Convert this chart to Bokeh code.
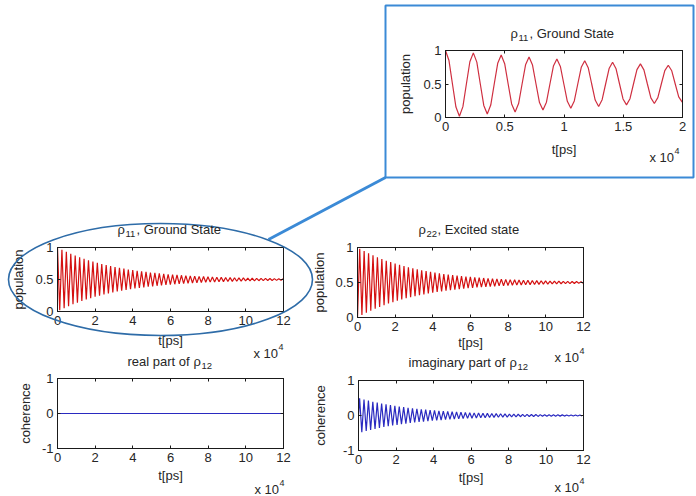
import numpy as np
from bokeh.core.properties import value
from bokeh.embed import file_html
from bokeh.models import FixedTicker, LinearAxis, Range1d
from bokeh.plotting import figure
from bokeh.resources import INLINE

FONT = "Liberation Sans"
INK = "#262626"
AXIS = "#1a1a1a"
RED = "#d41010"
RED_ZOOM = "#cf2f40"
BLUE = "#2a2ac0"
BOX_BLUE = "#3b8ad6"
RING_BLUE = "#2e6ca8"

# ---- data -------------------------------------------------------------
# Populations at successive extrema (one every half Rabi period)
HALF_PERIOD_PS = 1175.0
rho11_ext = [
    1.000, 0.018, 0.965, 0.051, 0.933, 0.083, 0.903, 0.112, 0.874, 0.139,
    0.848, 0.164, 0.824, 0.188, 0.801, 0.209, 0.780, 0.230, 0.761, 0.248,
    0.743, 0.266, 0.726, 0.282, 0.710, 0.298, 0.695, 0.312, 0.682, 0.325,
    0.669, 0.337, 0.657, 0.348, 0.646, 0.359, 0.636, 0.369, 0.627, 0.378,
    0.618, 0.387, 0.609, 0.394, 0.602, 0.402, 0.595, 0.409, 0.588, 0.415,
    0.582, 0.421, 0.576, 0.426, 0.571, 0.432, 0.566, 0.436, 0.561, 0.441,
    0.557, 0.445, 0.553, 0.449, 0.549, 0.452, 0.546, 0.456, 0.543, 0.459,
    0.540, 0.462, 0.537, 0.464, 0.534, 0.467, 0.532, 0.469, 0.530, 0.471,
    0.528, 0.473, 0.526, 0.475, 0.524, 0.477, 0.522, 0.479, 0.521, 0.480,
    0.519, 0.481, 0.518, 0.483, 0.517, 0.484, 0.516, 0.485, 0.514, 0.486,
    0.513, 0.487, 0.513,
]
rho22_ext = [
    0.000, 0.982, 0.035, 0.949, 0.067, 0.917, 0.097, 0.888, 0.126, 0.861,
    0.152, 0.836, 0.176, 0.812, 0.199, 0.791, 0.220, 0.770, 0.239, 0.752,
    0.257, 0.734, 0.274, 0.718, 0.290, 0.702, 0.305, 0.688, 0.318, 0.675,
    0.331, 0.663, 0.343, 0.652, 0.354, 0.641, 0.364, 0.631, 0.373, 0.622,
    0.382, 0.613, 0.391, 0.606, 0.398, 0.598, 0.405, 0.591, 0.412, 0.585,
    0.418, 0.579, 0.424, 0.574, 0.429, 0.568, 0.434, 0.564, 0.439, 0.559,
    0.443, 0.555, 0.447, 0.551, 0.451, 0.548, 0.454, 0.544, 0.457, 0.541,
    0.460, 0.538, 0.463, 0.536, 0.466, 0.533, 0.468, 0.531, 0.470, 0.529,
    0.472, 0.527, 0.474, 0.525, 0.476, 0.523, 0.478, 0.521, 0.479, 0.520,
    0.481, 0.519, 0.482, 0.517, 0.483, 0.516, 0.484, 0.515, 0.486, 0.514,
    0.487, 0.513, 0.487,
]
# Imaginary part of the coherence: zero at t=0, then extrema a quarter period later
im_rho12 = [
    0.000,
    0.491, -0.474, 0.457, -0.441, 0.425, -0.410, 0.395, -0.381, 0.368, -0.355,
    0.342, -0.330, 0.318, -0.307, 0.296, -0.285, 0.275, -0.266, 0.256, -0.247,
    0.238, -0.230, 0.222, -0.214, 0.206, -0.199, 0.192, -0.185, 0.178, -0.172,
    0.166, -0.160, 0.154, -0.149, 0.144, -0.138, 0.134, -0.129, 0.124, -0.120,
    0.116, -0.111, 0.108, -0.104, 0.100, -0.096, 0.093, -0.090, 0.087, -0.083,
    0.081, -0.078, 0.075, -0.072, 0.070, -0.067, 0.065, -0.062, 0.060, -0.058,
    0.056, -0.054, 0.052, -0.050, 0.049, -0.047, 0.045, -0.044, 0.042, -0.040,
    0.039, -0.038, 0.036, -0.035, 0.034, -0.033, 0.031, -0.030, 0.029, -0.028,
    0.027, -0.026, 0.025, -0.024, 0.024, -0.023, 0.022, -0.021, 0.020, -0.020,
    0.019, -0.018, 0.018, -0.017, 0.016, -0.016, 0.015, -0.015, 0.014, -0.014,
    0.013, -0.013,
]
# Real part of the coherence stays at zero over the whole run
re_t = [0.0, 120000.0]
re_rho12 = [0.0, 0.0]

# Close-up of rho11 over the first 2e4 ps, one sample every eighth of a period
ZOOM_STEP_PS = 293.75
rho11_zoom = [
    1.000, 0.850, 0.500, 0.156, 0.018, 0.162, 0.500, 0.832,
    0.965, 0.826, 0.500, 0.180, 0.051, 0.186, 0.500, 0.809,
    0.933, 0.803, 0.500, 0.202, 0.083, 0.208, 0.500, 0.787,
    0.903, 0.782, 0.500, 0.223, 0.112, 0.228, 0.500, 0.767,
    0.874, 0.762, 0.500, 0.242, 0.139, 0.247, 0.500, 0.749,
    0.848, 0.744, 0.500, 0.260, 0.164, 0.265, 0.500, 0.731,
    0.824, 0.727, 0.500, 0.277, 0.188, 0.281, 0.500, 0.715,
    0.801, 0.711, 0.500, 0.293, 0.209, 0.296, 0.500, 0.700,
    0.780, 0.697, 0.500, 0.307, 0.230,
]

x_ticks_main = [0, 20000, 40000, 60000, 80000, 100000, 120000]
x_labels_main = ["0", "2", "4", "6", "8", "10", "12"]
x_ticks_zoom = [0, 5000, 10000, 15000, 20000]
x_labels_zoom = ["0", "0.5", "1", "1.5", "2"]
pop_ticks = [0, 0.5, 1]
pop_labels = ["0", "0.5", "1"]
coh_ticks = [-1, 0, 1]
coh_labels = ["-1", "0", "1"]

t_pop = HALF_PERIOD_PS * np.arange(len(rho11_ext))
t_im = np.concatenate([[0.0], HALF_PERIOD_PS * (np.arange(len(im_rho12) - 1) + 0.5)])
t_zoom = ZOOM_STEP_PS * np.arange(len(rho11_zoom))

# ---- panels -------------------------------------------------------------
PAD_L, PAD_R, PAD_T, PAD_B = 70, 30, 30, 60


def panel(left, top, fw, fh, x_end, x_ticks, x_labels, y_rng, y_ticks, y_labels,
          y_title, x_gap, y_gap):
    p = figure(frame_width=fw, frame_height=fh,
               x_range=Range1d(0, x_end), y_range=Range1d(*y_rng),
               min_border_left=PAD_L, min_border_right=PAD_R,
               min_border_top=PAD_T, min_border_bottom=PAD_B,
               output_backend="svg", toolbar_location=None,
               x_axis_label="t[ps]", y_axis_label=y_title,
               styles={"position": "absolute",
                       "left": f"{left - PAD_L}px", "top": f"{top - PAD_T}px"})
    p.title.visible = False
    p.background_fill_color = "white"
    p.border_fill_alpha = 0.0
    p.outline_line_color = AXIS
    p.grid.visible = False
    p.xaxis.ticker = FixedTicker(ticks=x_ticks)
    p.xaxis.major_label_overrides = dict(zip(x_ticks, x_labels))
    p.yaxis.ticker = FixedTicker(ticks=y_ticks)
    p.yaxis.major_label_overrides = dict(zip(y_ticks, y_labels))
    p.xaxis.axis_label_standoff = x_gap
    p.yaxis.axis_label_standoff = y_gap
    top_ax = LinearAxis(ticker=FixedTicker(ticks=x_ticks))
    right_ax = LinearAxis(ticker=FixedTicker(ticks=y_ticks))
    p.add_layout(top_ax, "above")
    p.add_layout(right_ax, "right")
    for ax in p.axis:
        ax.axis_line_color = AXIS
        ax.major_tick_line_color = AXIS
        ax.major_tick_in = 3
        ax.major_tick_out = 0
        ax.minor_tick_line_color = None
        ax.major_label_standoff = 4
        ax.major_label_text_font = FONT
        ax.major_label_text_font_size = "13px"
        ax.major_label_text_color = INK
        ax.axis_label_text_font = FONT
        ax.axis_label_text_font_size = "13px"
        ax.axis_label_text_font_style = "normal"
        ax.axis_label_text_color = INK
    for ax in (top_ax, right_ax):
        ax.major_label_text_font_size = "0px"
        ax.major_label_text_color = None
    return p


p11 = panel(57, 247, 226, 64, 120000, x_ticks_main, x_labels_main, (0, 1),
            pop_ticks, pop_labels, "population", 5, 6)
p11.line(t_pop, rho11_ext, line_color=RED, line_width=1.2)

p22 = panel(357, 247, 226, 70, 120000, x_ticks_main, x_labels_main, (0, 1),
            pop_ticks, pop_labels, "population", 1, 5)
p22.line(t_pop, rho22_ext, line_color=RED, line_width=1.2)

pre = panel(57, 378, 226, 70, 120000, x_ticks_main, x_labels_main, (-1, 1),
            coh_ticks, coh_labels, "coherence", 3, 6)
pre.line(re_t, re_rho12, line_color=BLUE, line_width=1.2)

pim = panel(358, 380, 225, 70, 120000, x_ticks_main, x_labels_main, (-1, 1),
            coh_ticks, coh_labels, "coherence", 3, 12)
pim.line(t_im, im_rho12, line_color=BLUE, line_width=1.2)

pzoom = panel(445, 50, 237, 67, 20000, x_ticks_zoom, x_labels_zoom, (0, 1),
              pop_ticks, pop_labels, "population", 8, 7)
pzoom.line(t_zoom, rho11_zoom, line_color=RED_ZOOM, line_width=1.2)

# ---- overlay: titles, exponent notes, call-out -------------------------
over = figure(width=696, height=496, x_range=Range1d(0, 696), y_range=Range1d(496, 0),
              min_border=0, output_backend="svg", toolbar_location=None,
              x_axis_type=None, y_axis_type=None,
              styles={"position": "absolute", "left": "0px", "top": "0px", "z-index": "5"})
over.title.visible = False
over.grid.visible = False
over.outline_line_color = None
over.background_fill_alpha = 0.0
over.border_fill_alpha = 0.0

# call-out frame around the close-up, the ring and the connecting stroke
over.quad(left=385, right=693, top=5, bottom=177, fill_color=None,
          line_color=BOX_BLUE, line_width=2)
over.line([268, 385], [239, 177], line_color=BOX_BLUE, line_width=3)
over.ellipse(x=160, y=279, width=304, height=112, fill_color=None,
             line_color=RING_BLUE, line_width=1.6)

main_txt = dict(
    x=[117, 136, 418, 437, 127, 193, 408, 509, 510, 529],
    y=[229, 229, 229, 229, 361, 361, 362, 362, 33, 33],
    text=["ρ", ", Ground State", "ρ", ", Excited state", "real part of", "ρ",
          "imaginary part of", "ρ", "ρ", ", Ground State"],
)
sub_txt = dict(
    x=[125, 426, 201, 517, 518],
    y=[233, 233, 365, 366, 37],
    text=["11", "22", "12", "12", "11"],
)
exp_txt = dict(
    x=[253, 554, 254, 554, 649],
    y=[353, 357, 489, 487, 157],
    text=["x 10"] * 5,
)
pow_txt = dict(
    x=[278, 579, 279, 579, 674],
    y=[346, 350, 482, 480, 150],
    text=["4"] * 5,
)
for src, size in ((main_txt, "13px"), (sub_txt, "9.5px"), (exp_txt, "13px"), (pow_txt, "9px")):
    over.text(x=src["x"], y=src["y"], text=src["text"], text_font=value(FONT),
              text_font_size=value(size), text_color=INK,
              text_align="left", text_baseline="alphabetic")

open("out.html", "w").write(file_html([p11, p22, pre, pim, pzoom, over], INLINE))
